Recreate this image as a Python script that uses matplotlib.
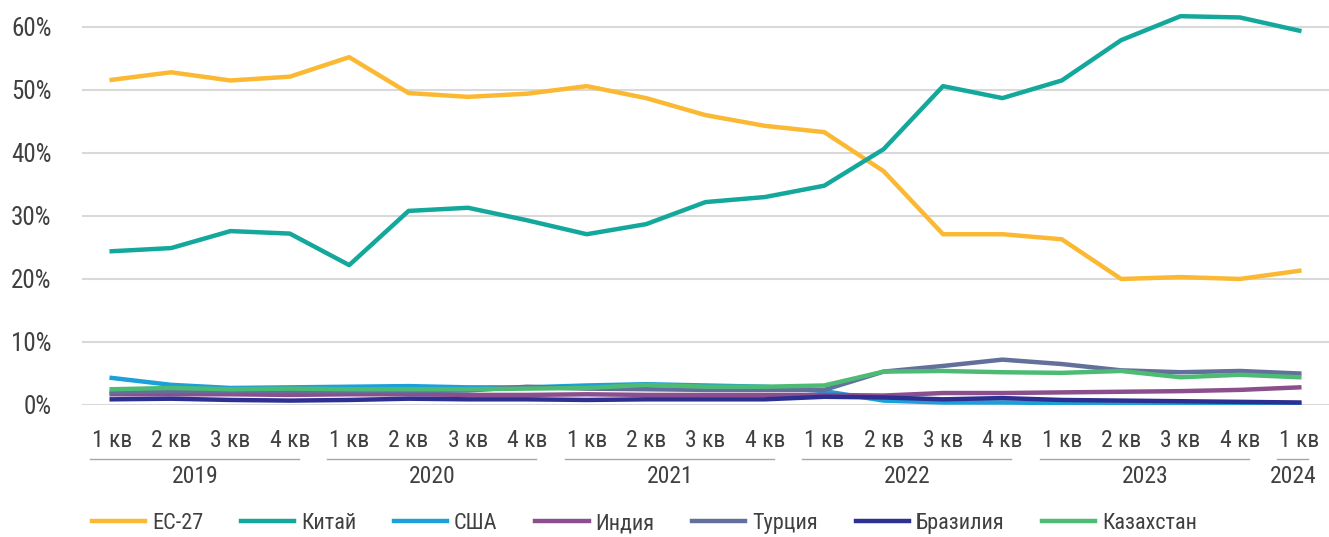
import matplotlib
matplotlib.use("Agg")
import matplotlib.pyplot as plt
import matplotlib.transforms as mtransforms

plt.rcParams['font.family'] = ['Liberation Sans Narrow', 'Roboto Condensed',
                               'DejaVu Sans Condensed', 'Roboto', 'DejaVu Sans']
plt.rcParams['font.stretch'] = 'condensed'

quarters = ["1 кв", "2 кв", "3 кв", "4 кв"] * 5 + ["1 кв"]
years = ["2019", "2020", "2021", "2022", "2023", "2024"]

eu27 = [51.6, 52.8, 51.5, 52.1, 55.2, 49.5, 48.9, 49.4, 50.6, 48.7, 46.0,
        44.3, 43.3, 37.1, 27.1, 27.1, 26.3, 20.0, 20.3, 20.0, 21.3]
china = [24.4, 24.9, 27.6, 27.2, 22.2, 30.8, 31.3, 29.3, 27.1, 28.7, 32.2,
         33.0, 34.8, 40.6, 50.6, 48.7, 51.5, 57.9, 61.7, 61.5, 59.4]
usa = [4.3, 3.2, 2.7, 2.8, 2.9, 3.0, 2.8, 2.8, 3.1, 3.3, 3.1,
       2.9, 2.2, 0.7, 0.4, 0.4, 0.3, 0.3, 0.2, 0.2, 0.2]
india = [1.7, 1.7, 1.7, 1.6, 1.7, 1.7, 1.6, 1.6, 1.7, 1.6, 1.6,
         1.6, 1.6, 1.5, 1.9, 1.9, 2.0, 2.1, 2.2, 2.4, 2.8]
turkey = [2.0, 2.2, 2.2, 2.2, 2.2, 2.2, 2.3, 2.9, 2.6, 2.5, 2.4,
          2.4, 2.4, 5.3, 6.2, 7.2, 6.5, 5.5, 5.2, 5.4, 5.0]
brazil = [0.9, 1.0, 0.8, 0.7, 0.8, 1.0, 0.9, 0.9, 0.8, 0.9, 0.9,
          0.9, 1.3, 1.2, 0.9, 1.1, 0.8, 0.7, 0.6, 0.5, 0.4]
kazakhstan = [2.5, 2.7, 2.5, 2.6, 2.5, 2.5, 2.5, 2.6, 2.7, 3.2, 2.9,
              2.9, 3.1, 5.3, 5.4, 5.2, 5.1, 5.4, 4.4, 4.8, 4.4]

series = [
    ("ЕС-27", eu27, "#FBB933"),
    ("Китай", china, "#13A89B"),
    ("США", usa, "#1BA0DA"),
    ("Индия", india, "#8B4F8E"),
    ("Турция", turkey, "#62709B"),
    ("Бразилия", brazil, "#2E3091"),
    ("Казахстан", kazakhstan, "#4DBB74"),
]

text_color = "#404040"
fs = 17

fig = plt.figure(figsize=(13.29, 5.37), dpi=100)
ax = fig.add_axes([82 / 1329, 132 / 537, 1247 / 1329, (405 - 8) / 537])

x = list(range(len(quarters)))
for name, vals, col in series:
    ax.plot(x, vals, color=col, lw=3.2, label=name, solid_joinstyle="round")

ax.set_xlim(-0.5, len(quarters) - 0.5)
ax.set_ylim(0, 63)
ax.set_yticks(range(0, 61, 10))
ax.set_yticklabels([f"{v}%" for v in range(0, 61, 10)], color=text_color, fontsize=18)
ax.yaxis.grid(True, color="#d9d9d9", lw=1.5)
ax.set_axisbelow(True)
for s in ax.spines.values():
    s.set_visible(False)
ax.tick_params(axis="y", length=0, pad=22)
ax.tick_params(axis="x", length=0, pad=17)
ax.set_xticks(x)
ax.set_xticklabels(quarters, color=text_color, fontsize=fs)

# year groups under quarter labels
trans = mtransforms.blended_transform_factory(ax.transData, ax.transAxes)
starts = [0, 4, 8, 12, 16, 20]
ends = [3, 7, 11, 15, 19, 20]
for yr, a, b in zip(years, starts, ends):
    ax.plot([a - 0.37, b + 0.15], [-0.135, -0.135], transform=trans,
            color="#a6a6a6", lw=1.0, clip_on=False)
    ax.text((a + b) / 2 - 0.1, -0.18, yr, transform=trans, ha="center", va="center",
            color=text_color, fontsize=fs)

fig.legend(loc="center left", bbox_to_anchor=(72 / 1329, 0.025), ncol=7, frameon=False,
           fontsize=16, handlelength=2.4, handletextpad=0.3, columnspacing=1.7,
           labelcolor=text_color)

fig.savefig("out.png", dpi=100)
